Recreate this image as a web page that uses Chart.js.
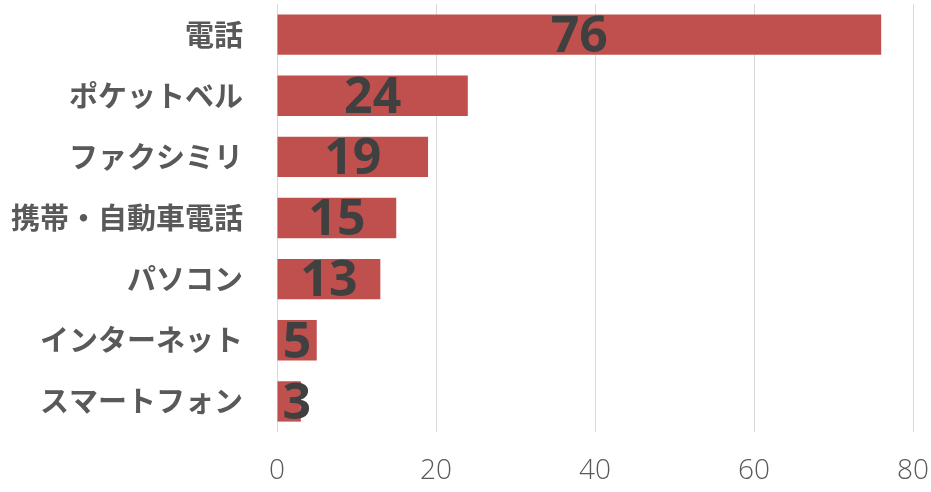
<!DOCTYPE html>
<html lang="ja">
<head>
  <meta charset="UTF-8">
  <title>Chart</title>
  <script src="https://cdn.jsdelivr.net/npm/chart.js"></script>
  <style>
    body { margin: 0; padding: 0; background: #fff; }
    #wrap { width: 931px; height: 492px; }
  </style>
</head>
<body>
  <div id="wrap"><canvas id="barChart" width="931" height="492"></canvas></div>
  <script>
    const categories = ['電話', 'ポケットベル', 'ファクシミリ', '携帯・自動車電話', 'パソコン', 'インターネット', 'スマートフォン'];
    const values = [76, 24, 19, 15, 13, 5, 3];
    const xTicks = [0, 20, 40, 60, 80];

    // big value labels in the middle of each bar
    const valueLabels = {
      id: 'valueLabels',
      afterDatasetsDraw(chart) {
        const ctx = chart.ctx;
        const meta = chart.getDatasetMeta(0);
        ctx.save();
        ctx.font = 'bold 50px "Open Sans", "DejaVu Sans", sans-serif';
        ctx.fillStyle = '#404040';
        ctx.textAlign = 'center';
        ctx.textBaseline = 'middle';
        meta.data.forEach((bar, i) => {
          const text = String(values[i]);
          const w = ctx.measureText(text).width;
          let x = (bar.x + bar.base) / 2;
          x = Math.max(x, bar.base + w / 2 + 5);
          ctx.fillText(text, x, bar.y + 3);
        });
        ctx.restore();
      }
    };

    new Chart(document.getElementById('barChart').getContext('2d'), {
      type: 'bar',
      data: {
        labels: categories,
        datasets: [{
          data: values,
          backgroundColor: '#c0504d',
          categoryPercentage: 1,
          barPercentage: 0.66
        }]
      },
      options: {
        indexAxis: 'y',
        responsive: false,
        animation: false,
        layout: { padding: { top: 4, right: 18, bottom: 0, left: 0 } },
        plugins: { legend: { display: false }, tooltip: { enabled: false } },
        scales: {
          x: {
            min: 0,
            max: 80,
            afterBuildTicks(axis) { axis.ticks = xTicks.map(v => ({ value: v })); },
            afterFit(axis) { axis.height = 60; axis.paddingLeft = 0; axis.paddingRight = 0; },
            grid: { color: '#d9d9d9', drawTicks: false },
            border: { display: false },
            ticks: {
              padding: 22,
              color: '#595959',
              font: { family: '"Open Sans", "DejaVu Sans", sans-serif', size: 28, weight: 300 }
            }
          },
          y: {
            afterFit(axis) { axis.width = 277; axis.paddingTop = 0; axis.paddingBottom = 0; },
            grid: { display: false },
            border: { display: false },
            ticks: {
              padding: 26,
              color: '#595959',
              font: { family: '"Noto Sans CJK JP", sans-serif', size: 29, weight: 'bold' }
            }
          }
        }
      },
      plugins: [valueLabels]
    });
  </script>
</body>
</html>
